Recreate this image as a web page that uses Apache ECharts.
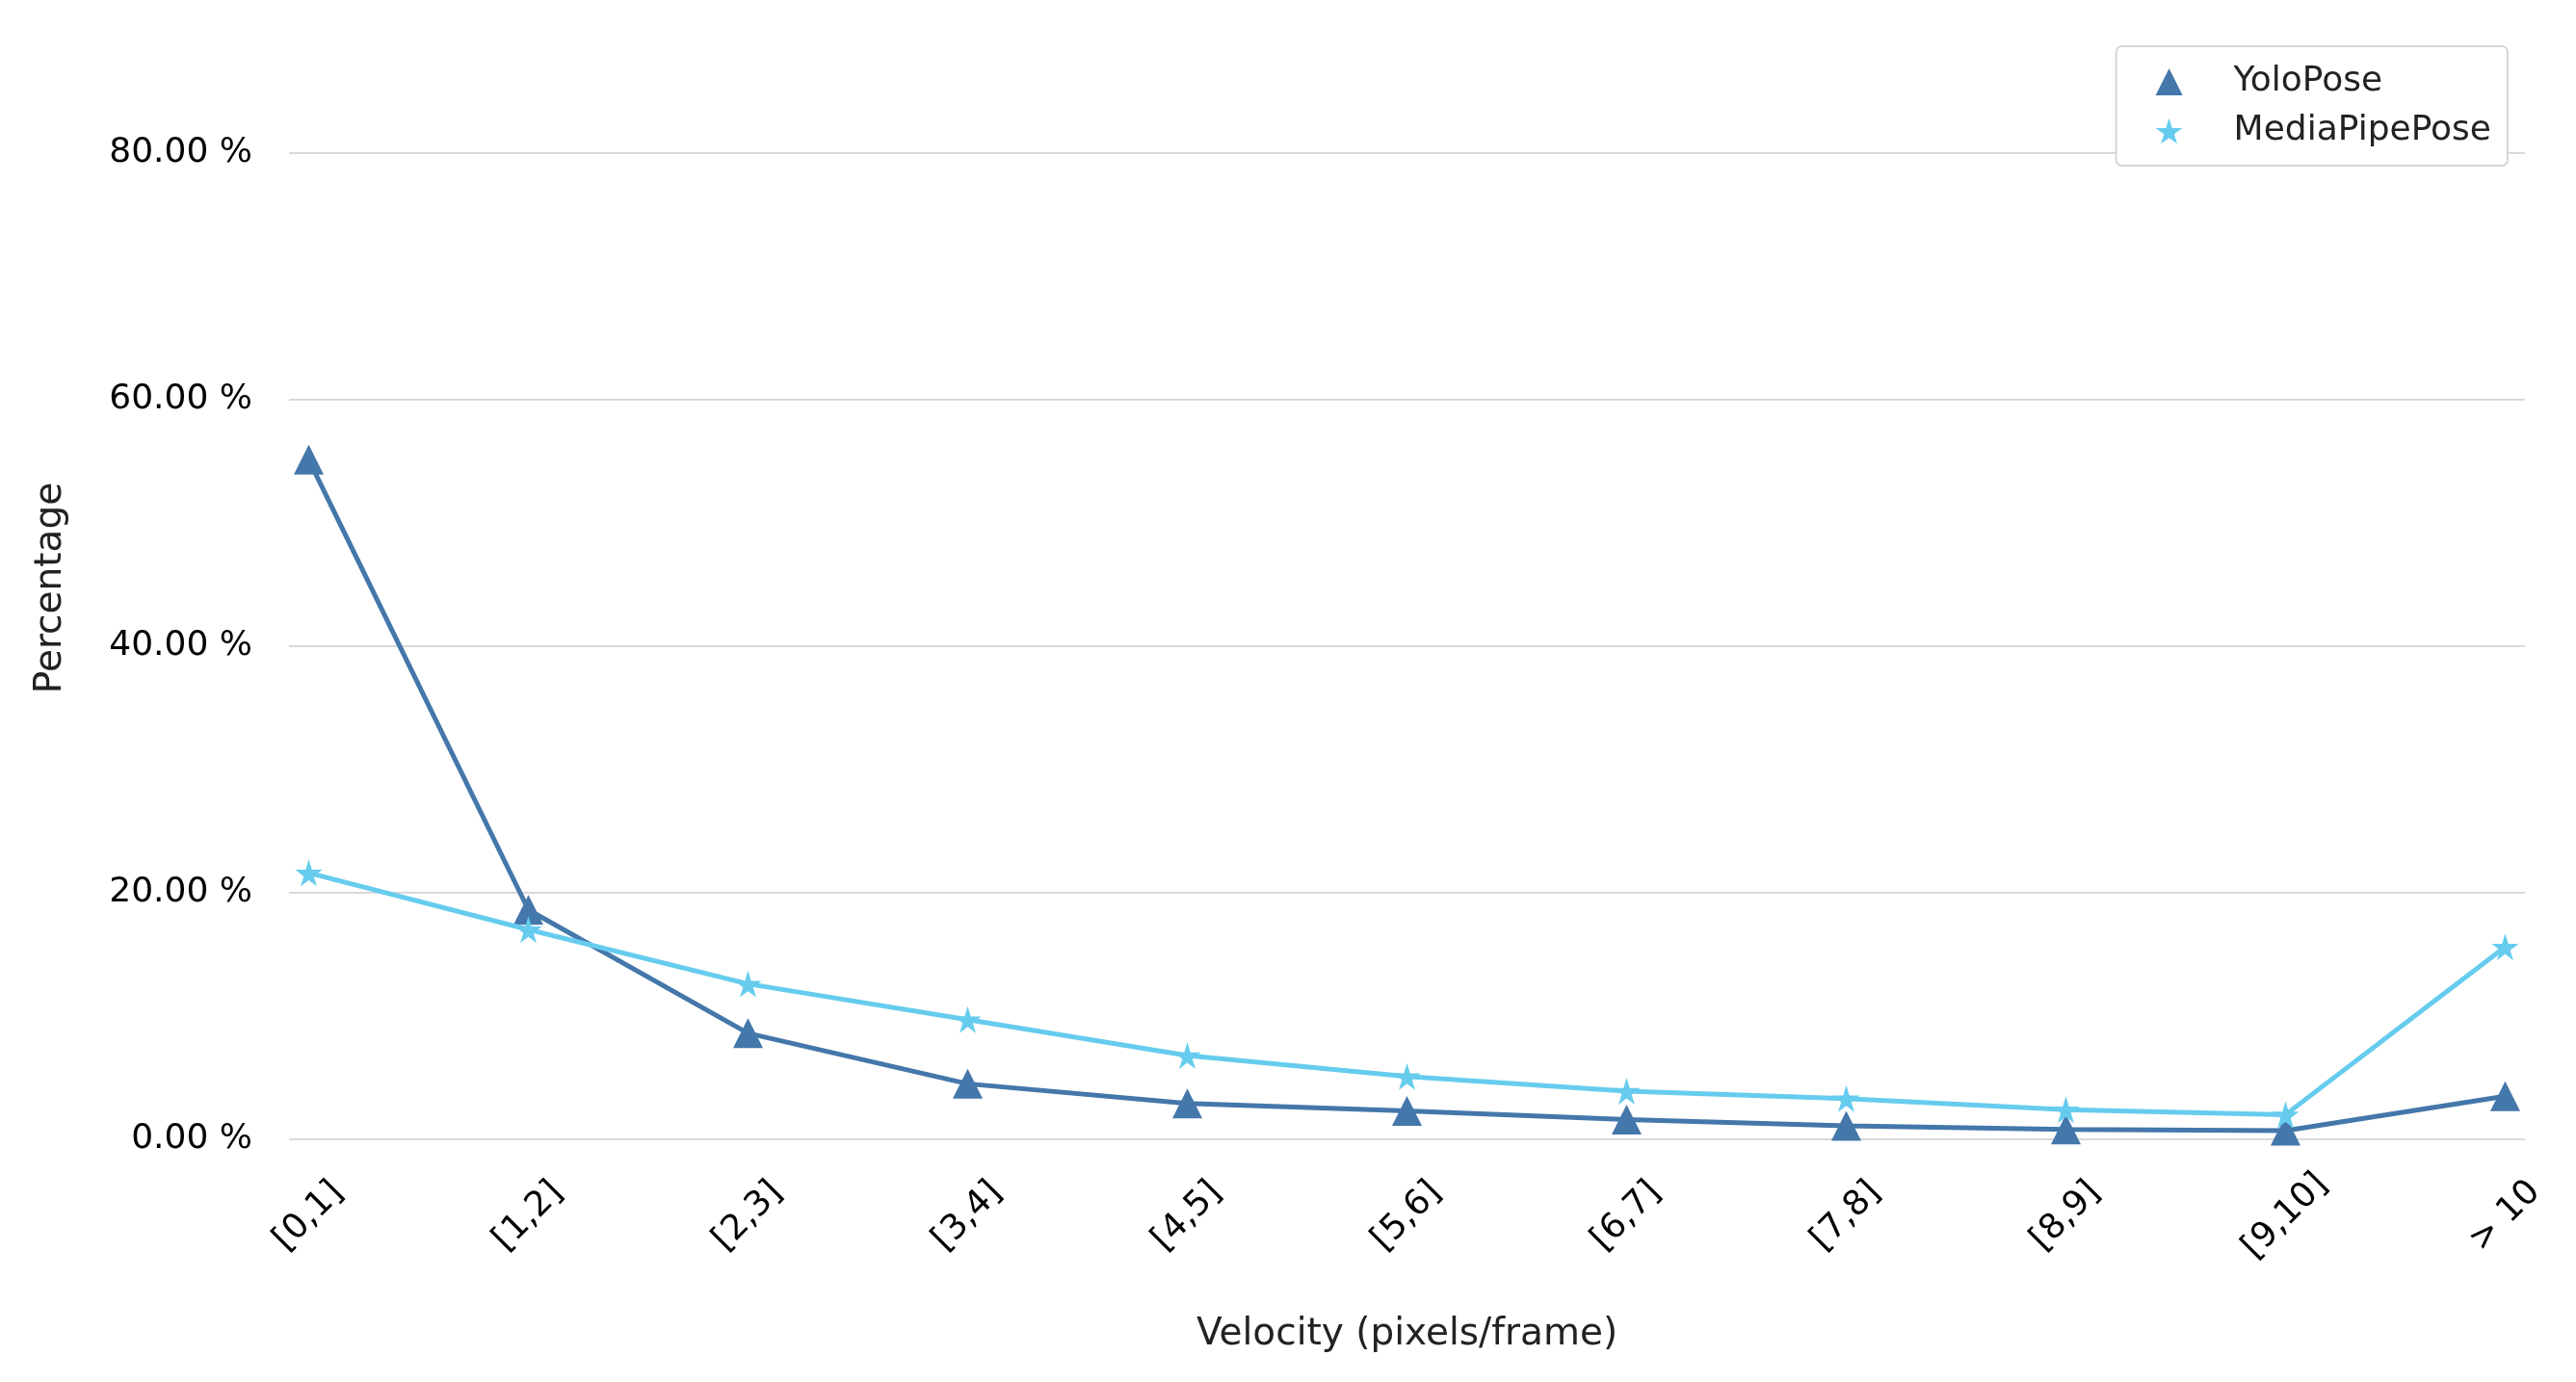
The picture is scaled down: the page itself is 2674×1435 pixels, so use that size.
<!DOCTYPE html>
<html>
<head>
<meta charset="utf-8">
<script src="https://cdn.jsdelivr.net/npm/echarts@6/dist/echarts.min.js"></script>
<style>
  html, body { margin: 0; padding: 0; background: #fff; }
  #main { width: 2674px; height: 1435px; }
</style>
</head>
<body>
<div id="main"></div>
<script>
// velocity bins on the x axis
const categories = ['[0,1]', '[1,2]', '[2,3]', '[3,4]', '[4,5]', '[5,6]', '[6,7]', '[7,8]', '[8,9]', '[9,10]', '> 10'];
// percentages
const yoloPose = [55.1, 18.6, 8.6, 4.5, 2.9, 2.3, 1.6, 1.1, 0.8, 0.7, 3.5];
const mediaPipePose = [21.6, 17.0, 12.6, 9.7, 6.8, 5.1, 3.9, 3.3, 2.4, 2.0, 15.6];
const yTicks = [0, 20, 40, 60, 80];

const starPath = 'path://M50,0 L61,35 L98,35 L68,57 L79,91 L50,70 L21,91 L32,57 L2,35 L39,35 Z';
const font = 'DejaVu Sans';

function pairs(arr) {
    return arr.map(function (v, i) { return [i, v]; });
}

let myChart = echarts.init(document.getElementById('main'));
let option = {
    backgroundColor: '#fff',
    animation: false,
    textStyle: { fontFamily: font },
    grid: { left: 300, right: 53, top: 38, bottom: 252, containLabel: false },
    legend: {
        orient: 'vertical',
        right: 71,
        top: 48,
        padding: [19, 17, 18, 41],
        itemGap: 15,
        itemWidth: 28,
        itemHeight: 28,
        borderColor: '#d6d6d6',
        borderWidth: 2,
        borderRadius: 6,
        backgroundColor: '#fff',
        textStyle: { fontFamily: font, fontSize: 36, color: '#222', lineHeight: 30, padding: [0, 0, 0, 48] },
        data: [
            { name: 'YoloPose', icon: 'triangle' },
            { name: 'MediaPipePose', icon: starPath }
        ]
    },
    xAxis: {
        type: 'value',
        min: -0.09,
        max: 10.09,
        name: 'Velocity (pixels/frame)',
        nameLocation: 'middle',
        nameGap: 183,
        nameTextStyle: { fontFamily: font, fontSize: 39, color: '#222' },
        axisLine: { show: false },
        axisTick: { show: false },
        splitLine: { show: false },
        axisLabel: {
            customValues: categories.map(function (c, i) { return i; }),
            formatter: function (v) { return categories[Math.round(v)]; },
            rotate: 45,
            align: 'center',
            verticalAlign: 'middle',
            margin: 80,
            fontFamily: font,
            fontSize: 36,
            color: '#000'
        }
    },
    yAxis: {
        type: 'value',
        min: 0,
        max: 89.4,
        interval: 20,
        name: 'Percentage',
        nameLocation: 'middle',
        nameGap: 228,
        nameTextStyle: { fontFamily: font, fontSize: 39, color: '#222' },
        axisLine: { show: false },
        axisTick: { show: false },
        splitLine: { showMaxLine: false, lineStyle: { color: '#d9d9d9', width: 2 } },
        axisLabel: {
            customValues: yTicks,
            formatter: function (v) { return v.toFixed(2) + ' %'; },
            margin: 38,
            fontFamily: font,
            fontSize: 36,
            color: '#000'
        }
    },
    series: [
        {
            name: 'YoloPose',
            type: 'line',
            data: pairs(yoloPose),
            symbol: 'triangle',
            symbolSize: 31,
            itemStyle: { color: '#4477aa' },
            lineStyle: { color: '#4477aa', width: 5 },
            z: 3
        },
        {
            name: 'MediaPipePose',
            type: 'line',
            data: pairs(mediaPipePose),
            symbol: starPath,
            symbolSize: 28,
            itemStyle: { color: '#66ccee' },
            lineStyle: { color: '#66ccee', width: 5 },
            z: 4
        }
    ]
};
myChart.setOption(option);
</script>
</body>
</html>
